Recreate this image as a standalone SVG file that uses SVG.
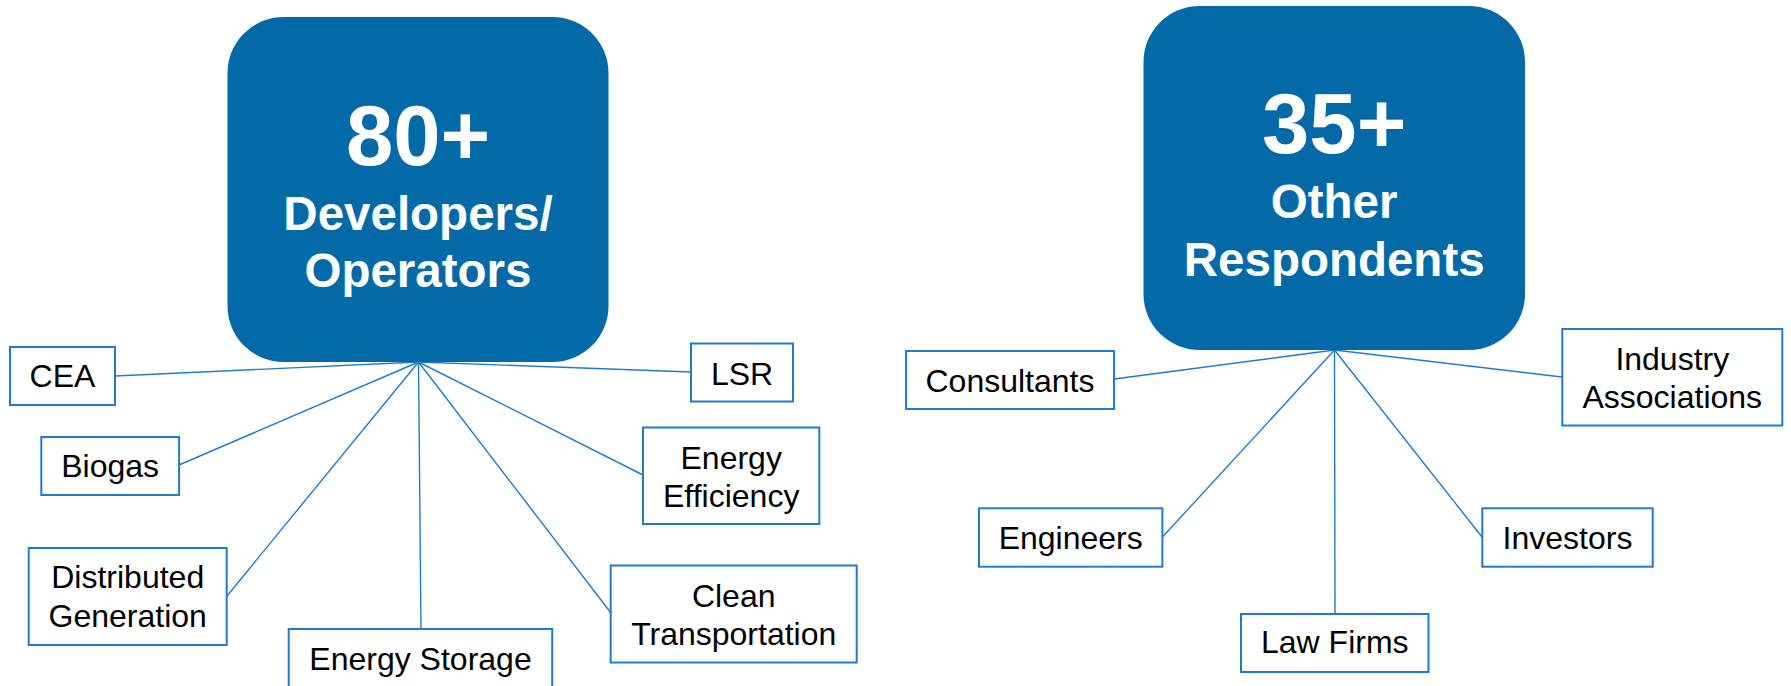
<svg xmlns="http://www.w3.org/2000/svg" width="1791" height="686" viewBox="0 0 1791 686">
<style>
.big{fill:#036aa7}
.bt{fill:#fff;font-family:"Liberation Sans",Arial,sans-serif;font-weight:bold;text-anchor:middle}
.n{font-size:85px}
.l{font-size:47.5px}
.box{fill:#fff;stroke:#1f7ccc;stroke-width:2}
.t{fill:#000;font-family:"Liberation Sans",Arial,sans-serif;font-size:32px;text-anchor:middle}
.c{stroke:#1f7ccc;stroke-width:1.4;fill:none}
</style>
<rect width="1791" height="686" fill="#fff"/>
<g id="connectors">
<line class="c" x1="418.5" y1="362" x2="115" y2="376"/>
<line class="c" x1="418.5" y1="362" x2="691" y2="372"/>
<line class="c" x1="418.5" y1="362" x2="179" y2="465"/>
<line class="c" x1="418.5" y1="362" x2="643" y2="475"/>
<line class="c" x1="418.5" y1="362" x2="227" y2="596"/>
<line class="c" x1="418.5" y1="362" x2="421" y2="629"/>
<line class="c" x1="418.5" y1="362" x2="611" y2="613"/>
<line class="c" x1="1334.5" y1="350" x2="1114" y2="379"/>
<line class="c" x1="1334.5" y1="350" x2="1562" y2="377"/>
<line class="c" x1="1334.5" y1="350" x2="1162.5" y2="537"/>
<line class="c" x1="1334.5" y1="350" x2="1482" y2="537"/>
<line class="c" x1="1334.5" y1="350" x2="1335" y2="614"/>
</g>
<g id="developers">
<rect class="big" x="227.5" y="17" width="381" height="345" rx="56"/>
<text class="bt n" x="418" y="165">80+</text>
<text class="bt l" x="418" y="230">Developers/</text>
<text class="bt l" x="418" y="287">Operators</text>
</g>
<g id="other">
<rect class="big" x="1143.5" y="6" width="381.5" height="344" rx="56"/>
<text class="bt n" x="1334.2" y="153">35+</text>
<text class="bt l" x="1334.2" y="218">Other</text>
<text class="bt l" x="1334.2" y="276">Respondents</text>
</g>
<g id="cea"><rect class="box" x="10" y="347" width="105" height="58"/><text class="t" x="62.5" y="387">CEA</text></g>
<g id="lsr"><rect class="box" x="691" y="343.5" width="102" height="58"/><text class="t" x="742" y="385">LSR</text></g>
<g id="biogas"><rect class="box" x="41.3" y="437" width="137.8" height="58"/><text class="t" x="110.2" y="477">Biogas</text></g>
<g id="efficiency"><rect class="box" x="643" y="427.5" width="176.3" height="96.5"/><text class="t" x="731.2" y="468.5">Energy</text><text class="t" x="731.2" y="506.5">Efficiency</text></g>
<g id="distributed"><rect class="box" x="28.7" y="548" width="198" height="97"/><text class="t" x="127.7" y="588">Distributed</text><text class="t" x="127.7" y="627">Generation</text></g>
<g id="storage"><rect class="box" x="288.7" y="629" width="263.5" height="70"/><text class="t" x="420.5" y="670">Energy Storage</text></g>
<g id="transport"><rect class="box" x="610.7" y="565.5" width="246" height="97"/><text class="t" x="733.7" y="607">Clean</text><text class="t" x="733.7" y="645">Transportation</text></g>
<g id="consultants"><rect class="box" x="906" y="351" width="208" height="58"/><text class="t" x="1010" y="392">Consultants</text></g>
<g id="industry"><rect class="box" x="1562.3" y="329" width="220" height="96.5"/><text class="t" x="1672.3" y="370">Industry</text><text class="t" x="1672.3" y="408">Associations</text></g>
<g id="engineers"><rect class="box" x="979" y="508.3" width="183.4" height="58.4"/><text class="t" x="1070.7" y="549">Engineers</text></g>
<g id="investors"><rect class="box" x="1482.3" y="508.3" width="170.4" height="58.4"/><text class="t" x="1567.5" y="549">Investors</text></g>
<g id="lawfirms"><rect class="box" x="1241" y="614" width="187.5" height="58"/><text class="t" x="1334.8" y="653">Law Firms</text></g>
</svg>
